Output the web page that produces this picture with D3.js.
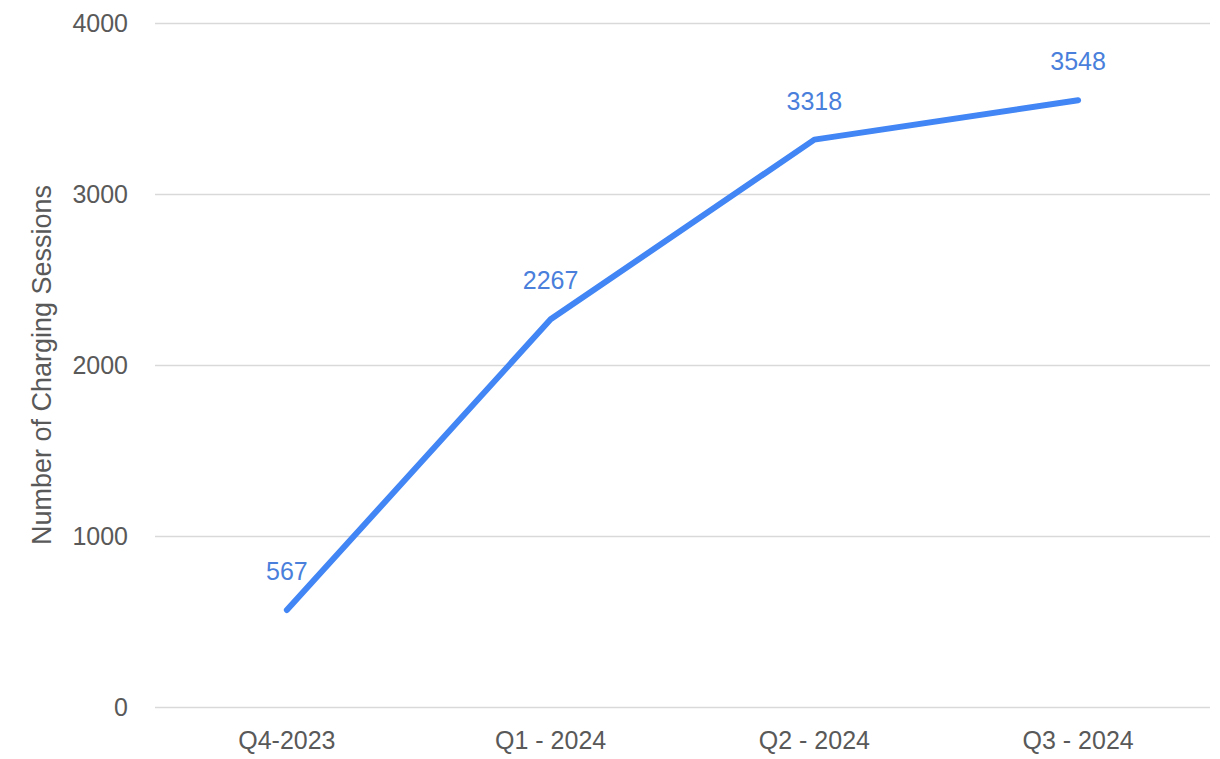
<!DOCTYPE html>
<html>
<head>
<meta charset="utf-8">
<script src="https://cdn.jsdelivr.net/npm/d3@7"></script>
<style>
  body { margin: 0; background: #fff; }
  text { font-family: "Helvetica Neue", Helvetica, Arial, "Liberation Sans", sans-serif; }
</style>
</head>
<body>
<div id="chart"></div>
<script>
// Data
const quarters = ["Q4-2023", "Q1 - 2024", "Q2 - 2024", "Q3 - 2024"];
const sessions = [567, 2267, 3318, 3548];
const yTicks = [0, 1000, 2000, 3000, 4000];

const width = 1220;
const height = 759;
const margin = { top: 23, right: 10, bottom: 52, left: 155 };

const svg = d3.select("#chart")
    .append("svg")
    .attr("width", width)
    .attr("height", height);

const x = d3.scaleBand()
    .domain(quarters)
    .range([margin.left, width - margin.right]);

const y = d3.scaleLinear()
    .domain([0, 4000])
    .range([height - margin.bottom, margin.top]);

// Gridlines + y labels
const yAxis = d3.axisLeft(y)
    .tickValues(yTicks)
    .tickSize(-(width - margin.left - margin.right))
    .tickPadding(27)
    .tickFormat(d3.format("d"));

svg.append("g")
    .attr("transform", `translate(${margin.left},0)`)
    .call(yAxis)
    .call(g => g.select(".domain").remove())
    .call(g => g.selectAll(".tick line").attr("stroke", "#d9d9d9").attr("stroke-width", 1.5))
    .call(g => g.selectAll(".tick text").attr("fill", "#595959").attr("font-size", 25));

// x labels
const xAxis = d3.axisBottom(x).tickSize(0).tickPadding(24);
svg.append("g")
    .attr("transform", `translate(0,${height - margin.bottom})`)
    .call(xAxis)
    .call(g => g.select(".domain").remove())
    .call(g => g.selectAll(".tick text").attr("fill", "#595959").attr("font-size", 25));

// axis title
svg.append("text")
    .attr("transform", `translate(51,${(margin.top + height - margin.bottom) / 2}) rotate(-90)`)
    .attr("text-anchor", "middle")
    .attr("fill", "#595959")
    .attr("font-size", 27)
    .text("Number of Charging Sessions");

// line
const line = d3.line()
    .x((d, i) => x(quarters[i]) + x.bandwidth() / 2)
    .y(d => y(d));

svg.append("path")
    .datum(sessions)
    .attr("fill", "none")
    .attr("stroke", "#4285f4")
    .attr("stroke-width", 6)
    .attr("stroke-linecap", "round")
    .attr("stroke-linejoin", "round")
    .attr("d", line);

// data labels
svg.selectAll(".label")
    .data(sessions)
    .enter()
    .append("text")
    .attr("class", "label")
    .attr("x", (d, i) => x(quarters[i]) + x.bandwidth() / 2)
    .attr("y", d => y(d) - 30)
    .attr("text-anchor", "middle")
    .attr("fill", "#4a7fdc")
    .attr("font-size", 25)
    .text(d => d);
</script>
</body>
</html>
